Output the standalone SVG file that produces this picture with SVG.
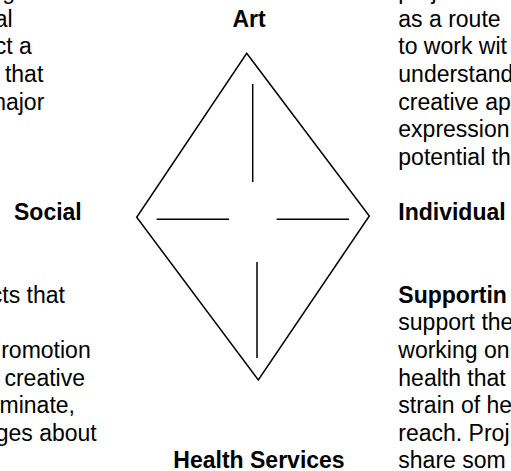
<svg xmlns="http://www.w3.org/2000/svg" width="511" height="471" viewBox="0 0 511 471">
  <style>
    text { font-family: "Liberation Sans", Arial, sans-serif; font-size: 23px; fill: #000; }
    .label { font-weight: bold; text-anchor: middle; }
    .head { font-weight: bold; }
    .end { text-anchor: end; }
    .edge { fill: none; stroke: #000; stroke-width: 1.5; stroke-linejoin: miter; }
  </style>
  <rect width="511" height="471" fill="#fff"/>

  <!-- diamond figure -->
  <g id="diamond">
    <polygon class="edge" points="246.7,53.3 369.3,216 258.3,380 136.7,217.3"/>
  </g>

  <!-- cross inside the diamond -->
  <g id="connectors">
    <line class="edge" x1="252.7" y1="84" x2="252.7" y2="182"/>
    <line class="edge" x1="156.7" y1="219.3" x2="229" y2="219.3"/>
    <line class="edge" x1="276.7" y1="219.3" x2="349" y2="219.3"/>
    <line class="edge" x1="257" y1="262" x2="257" y2="358"/>
  </g>

  <!-- corner labels (text rows every 27.6px) -->
  <g id="node-art"><text class="label" x="249" y="26.8">Art</text></g>
  <g id="node-social"><text class="head" x="14" y="220">Social</text></g>
  <g id="node-individual"><text class="head" x="398.3" y="220">Individual</text></g>
  <g id="node-health"><text class="label" x="259" y="468.4">Health Services</text></g>

  <!-- left column text, upper block -->
  <g id="text-left-top">
    <text class="end" x="15" y="-0.8">ng</text>
    <text class="end" x="12.7" y="26.8">al</text>
    <text class="end" x="31.7" y="54.4">ct a</text>
    <text class="end" x="43.3" y="82">that</text>
    <text class="end" x="44.3" y="109.6">najor</text>
  </g>

  <!-- left column text, lower block -->
  <g id="text-left-bottom">
    <text class="end" x="65" y="302.8">cts that</text>
    <text class="end" x="90.7" y="358">romotion</text>
    <text class="end" x="85" y="385.6">creative</text>
    <text class="end" x="75" y="413.2">minate,</text>
    <text class="end" x="96.7" y="440.8">ges about</text>
  </g>

  <!-- right column text, upper block -->
  <g id="text-right-top">
    <text x="398.3" y="-0.8">projects</text>
    <text x="398.3" y="26.8">as a route</text>
    <text x="398.3" y="54.4">to work wit</text>
    <text x="398.3" y="82">understand</text>
    <text x="398.3" y="109.6">creative ap</text>
    <text x="398.3" y="137.2">expression</text>
    <text x="398.3" y="164.8">potential th</text>
  </g>

  <!-- right column text, lower block -->
  <g id="text-right-bottom">
    <text class="head" x="398.3" y="302.8">Supportin</text>
    <text x="398.3" y="330.4">support the</text>
    <text x="398.3" y="358">working on</text>
    <text x="398.3" y="385.6">health that</text>
    <text x="398.3" y="413.2">strain of he</text>
    <text x="398.3" y="440.8">reach. Proj</text>
    <text x="398.3" y="468.4">share som</text>
  </g>
</svg>
